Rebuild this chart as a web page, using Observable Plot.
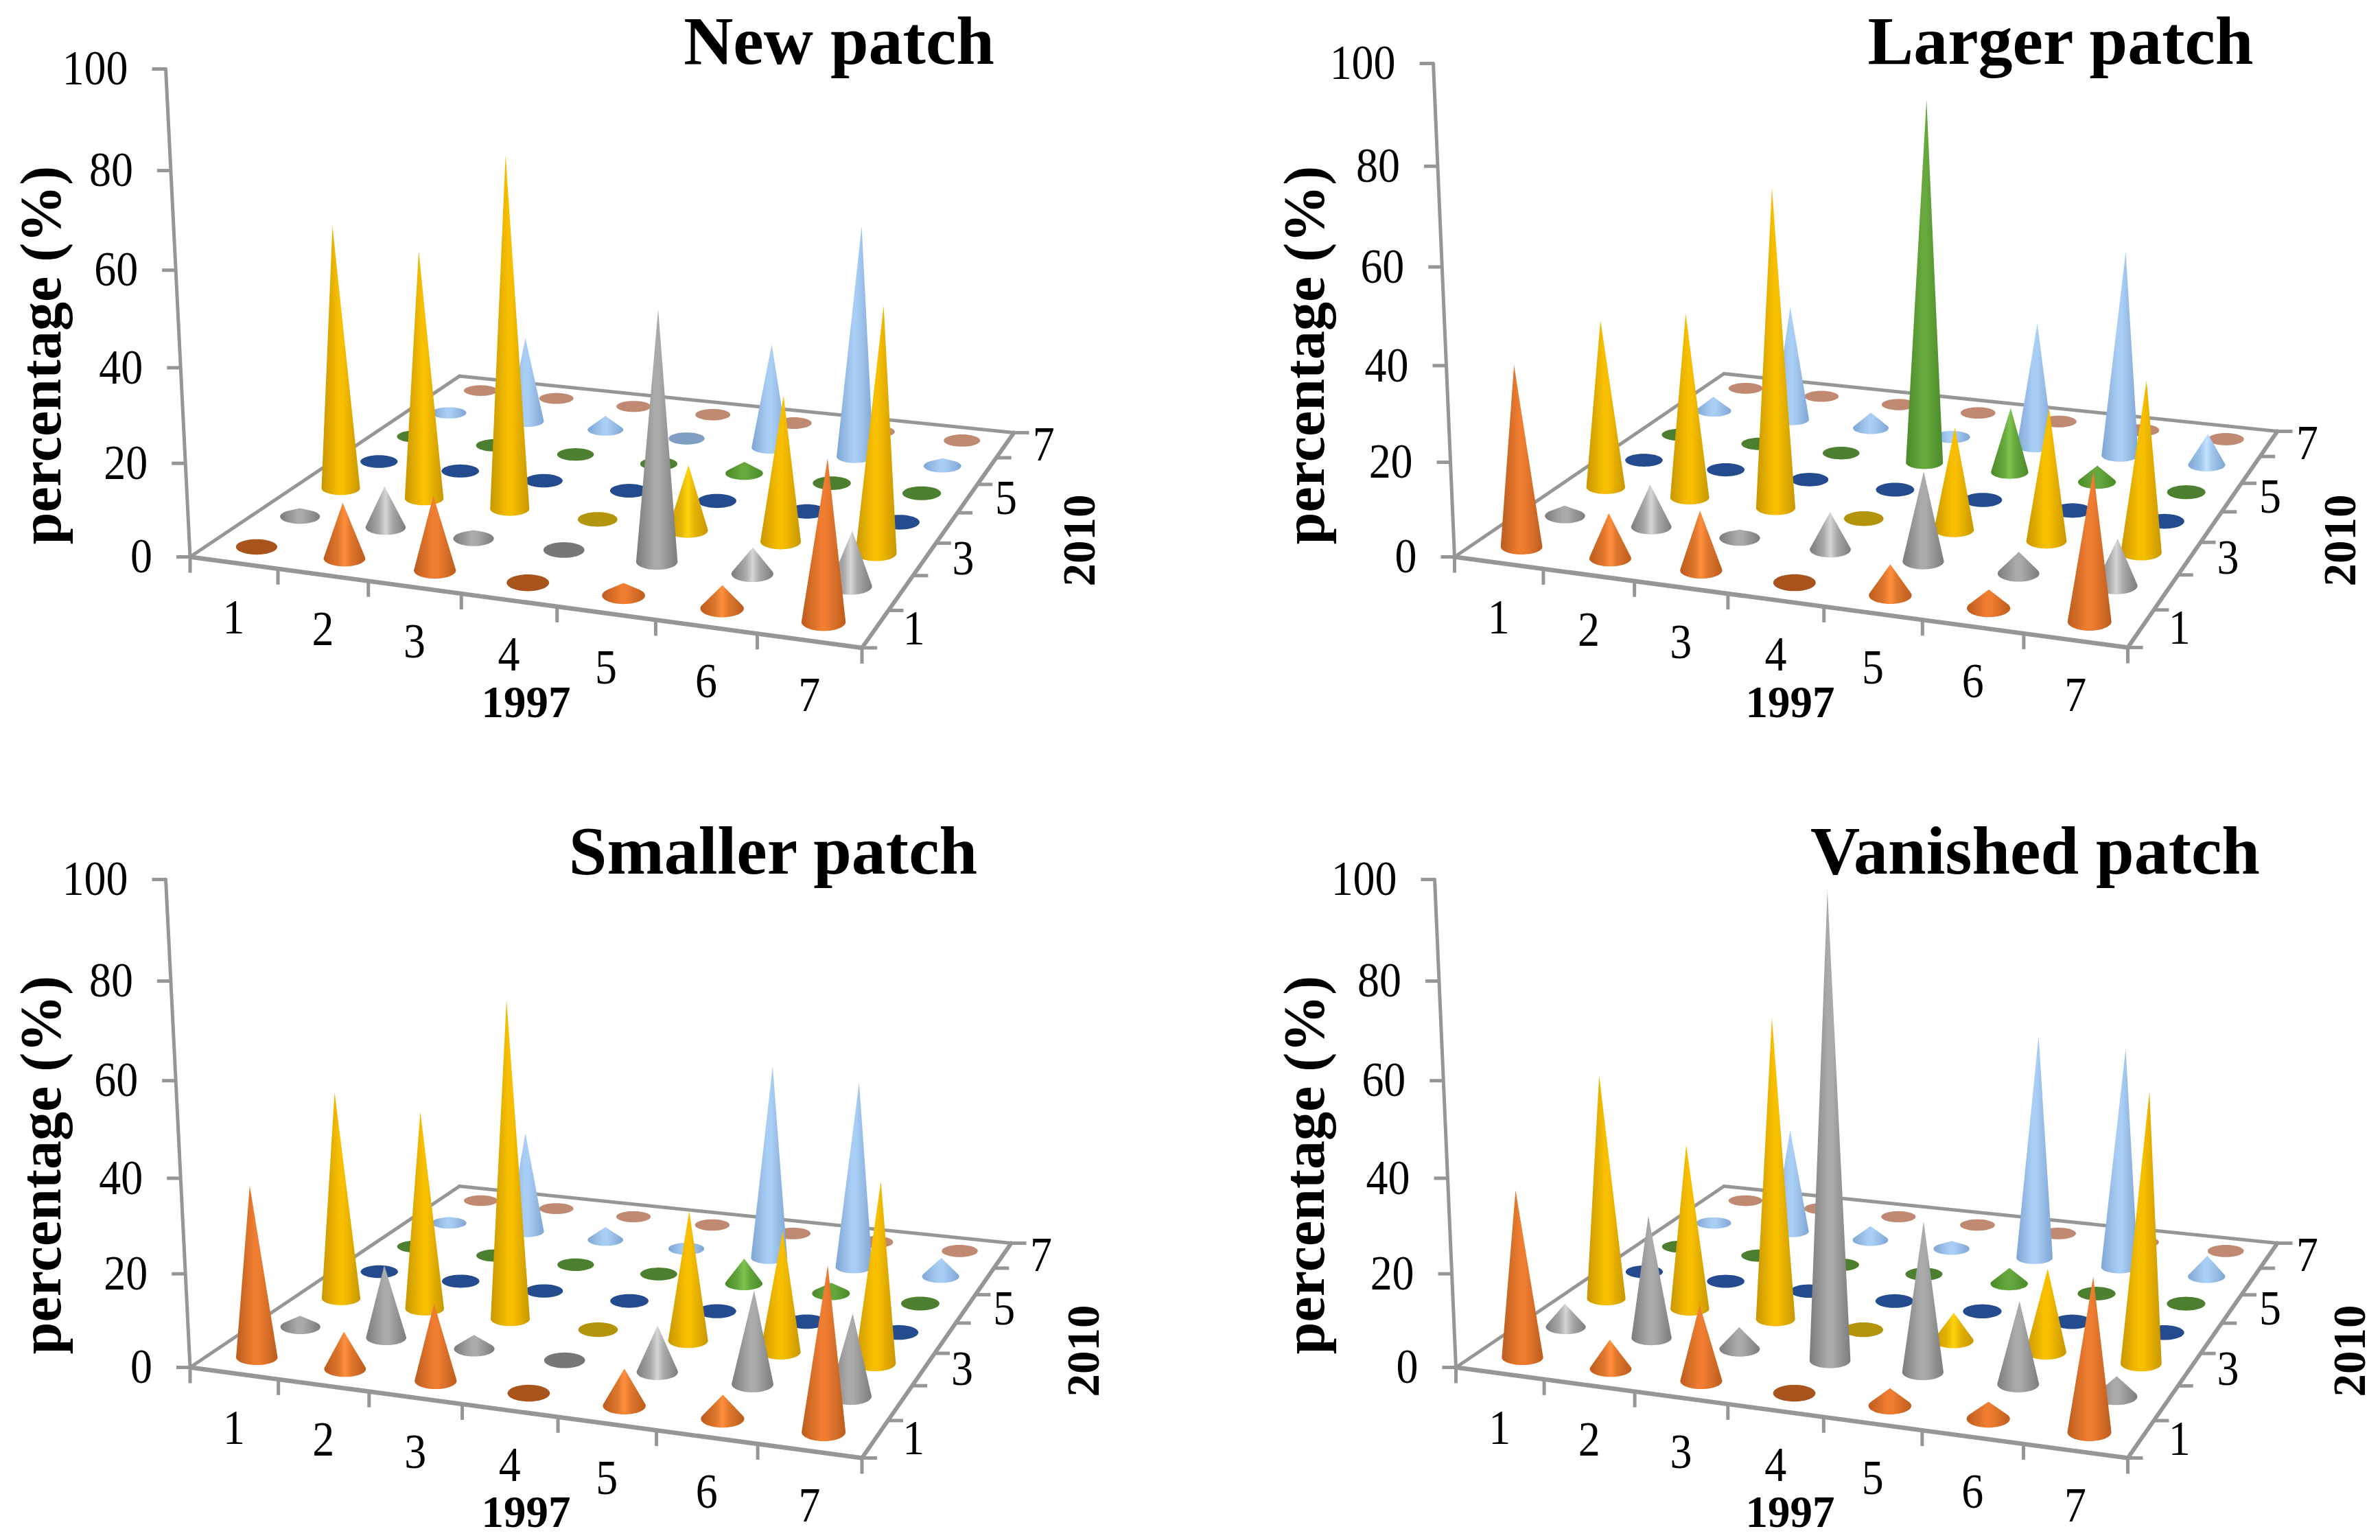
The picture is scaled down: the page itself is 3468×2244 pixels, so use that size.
<!DOCTYPE html>
<html>
<head>
<meta charset="utf-8">
<script src="https://cdn.jsdelivr.net/npm/d3@7"></script>
<script src="https://cdn.jsdelivr.net/npm/@observablehq/plot@0.6"></script>
<style>
html,body{margin:0;padding:0;background:#fff;overflow:hidden}
#grid{display:grid;grid-template-columns:1734px 1734px;grid-template-rows:1122px 1122px;width:3468px;height:2244px}
#grid svg{display:block;background:#fff}
</style>
</head>
<body>
<div id="grid"></div>
<script>
// Percentages, one row per 2010 class (1..7), one column per 1997 class (1..7)
const newPatch = [
  [0, 12, 16, 0, 2.7, 5, 34.7],
  [1.8, 8.8, 1.8, 0, 53, 5.7, 11.9],
  [55, 52, 73.5, 0, 14, 31, 52],
  [0, 0, 0, 0, 0, 0, 0],
  [0, 0, 0, 0, 2.5, 0, 0],
  [1, 17.8, 3, 0, 22, 48.5, 1.7 ],
  [0, 0, 0, 0, 0, 0, 0]
];
const largerPatch = [
  [38, 9.6, 12.7, 0, 6.6, 4, 31.6],
  [2.2, 9, 1.8, 8, 19, 4.6, 10],
  [35, 38.5, 66, 0, 21.6, 28, 36],
  [0, 0, 0, 0, 0, 0, 0],
  [0, 0, 0, 74.5, 13.6, 3.5, 0],
  [3, 23.7, 3.3, 0.5, 25.8, 42.5, 6.6],
  [0, 0, 0, 0, 0, 0, 0]
];
const smallerPatch = [
  [36.4, 8, 16.6, 0, 8, 5.2, 35.4],
  [2.4, 15.5, 3, 0, 10, 20, 17.8],
  [43.5, 41.6, 66.5, 0, 27.6, 25.8, 38.5],
  [0, 0, 0, 0, 0, 0, 0],
  [0, 0, 0, 0, 5.4, 2.3, 0],
  [1.3, 21, 2.8, 0.5, 40.5, 39, 4],
  [0, 0, 0, 0, 0, 0, 0]
];
const vanishedPatch = [
  [35.4, 6.3, 16.3, 0, 3.8, 3.7, 33],
  [5, 26, 4.7, 96.6, 32, 17.8, 4.4],
  [47, 34.7, 63, 0, 6, 17.8, 57],
  [0, 0, 0, 0, 0, 0, 0],
  [0, 0, 0, 0, 3.4, 0, 0],
  [1, 21.6, 3, 1.7, 46.7, 46, 4.5],
  [0, 0, 0, 0, 0, 0, 0]
];
const classes = [1, 2, 3, 4, 5, 6, 7];
const percentTicks = [0, 20, 40, 60, 80, 100];
const labelled2010 = [1, 3, 5, 7];
// Shading for each 2010 row
const rowEdge   = ["#bd5c1d", "#7c7c7c", "#c89600", "#1f4a8c", "#4a8a2a", "#7ea6d4", "#b97f68"];
const rowMuted  = ["#ee7d31", "#aaaaaa", "#f7bf00", "#2a5aa0", "#66a83d", "#a9cef5", "#c99078"];
const rowBright = ["#ff8f3d", "#d6d6d6", "#ffd40c", "#2a5aa0", "#7fc44f", "#c2e2ff", "#c99078"];
const rowDisc   = ["#a8541c", "#777777", "#b3940a", "#234b8e", "#4c8030", "#7f9fc2", "#c08a72"];

const panels = [
  {title: "New patch", values: newPatch, titleX: 1222, titleY: 92,
   fl: [276.5, 811], fr: [1255.5, 943.5], br: [1477, 630], bl: [669, 547.6], top: [241, 100],
   pctX: 87, pctY: 517, y2010X: 1594, y2010Y: 787, x1997: 766, y1997: 1044},
  {title: "Larger patch", values: largerPatch, titleX: 1268, titleY: 92,
   fl: [385, 811], fr: [1366, 943], br: [1584, 628], bl: [777.6, 544], top: [354, 92],
   pctX: 194, pctY: 517, y2010X: 1697, y2010Y: 787, x1997: 874, y1997: 1044},
  {title: "Smaller patch", values: smallerPatch, titleX: 1126, titleY: 150,
   fl: [276.5, 870], fr: [1255.5, 1002], br: [1473, 689], bl: [669, 606], top: [241, 159],
   pctX: 87, pctY: 575, y2010X: 1600, y2010Y: 846, x1997: 766, y1997: 1102},
  {title: "Vanished patch", values: vanishedPatch, titleX: 1231, titleY: 150,
   fl: [387, 870], fr: [1366, 1002], br: [1584, 689], bl: [777.6, 606], top: [356, 159],
   pctX: 194, pctY: 575, y2010X: 1711, y2010Y: 846, x1997: 874, y1997: 1102}
];

const serif = "'Liberation Serif','Times New Roman',serif";
const W = 1734, H = 1122;

function floorMap(p) {
  // Projective map of the 0..7 x 0..7 floor on to its four corners
  const [x0, y0] = p.fl, [x1, y1] = p.fr, [x2, y2] = p.br, [x3, y3] = p.bl;
  const dx1 = x1 - x2, dx2 = x3 - x2, sx = x0 - x1 + x2 - x3;
  const dy1 = y1 - y2, dy2 = y3 - y2, sy = y0 - y1 + y2 - y3;
  const det = dx1 * dy2 - dx2 * dy1;
  const g = (sx * dy2 - dx2 * sy) / det, h = (dx1 * sy - sx * dy1) / det;
  const a = x1 - x0 + g * x1, b = x3 - x0 + h * x3, d = y1 - y0 + g * y1, e = y3 - y0 + h * y3;
  return (u, v) => {
    const s = u / 7, t = v / 7, w = g * s + h * t + 1;
    return [(a * s + b * t + x0) / w, (d * s + e * t + y0) / w];
  };
}

function drawPanel(p, n) {
  const map = floorMap(p);
  const axisLen = p.fl[1] - p.top[1];
  const rise = v => axisLen * (0.009486 * v + 5.136e-6 * v * v);
  const axisAt = v => {
    const r = rise(v);
    return [p.fl[0] + (p.top[0] - p.fl[0]) * r / axisLen, p.fl[1] - r];
  };
  const vanishX = p.fl[0] + 613, lean = 8.03e-5;

  // Cones, back row first so nearer cones overlap them
  const conePoints = [];
  for (let j = 6; j >= 0; --j) {
    for (let i = 0; i < 7; ++i) {
      const v = p.values[j][i];
      const [bx, by] = map(i + 0.5, j + 0.5);
      const spread = d3.range(48).map(k => {
        const t = k / 48 * 2 * Math.PI;
        return map(i + 0.5 + 0.205 * Math.cos(t), j + 0.5 + 0.235 * Math.sin(t));
      });
      const rx = (d3.max(spread, q => q[0]) - d3.min(spread, q => q[0])) / 2;
      const ry = (d3.max(spread, q => q[1]) - d3.min(spread, q => q[1])) / 2;
      const ring = d3.range(48).map(k => {
        const t = k / 48 * 2 * Math.PI;
        return [bx + rx * Math.cos(t), by + ry * Math.sin(t)];
      });
      const r = rise(v);
      const pts = v > 0 ? ring.concat([[bx + (bx - vanishX) * r * lean, by - r]]) : ring;
      const hull = d3.polygonHull(pts);
      const tier = v >= 5 && v < 15 ? "b" : "m";
      const fill = v > 0 ? `url(#cone-${n}-${tier}-${j})` : rowDisc[j];
      for (const q of hull) conePoints.push({id: `${j}-${i}`, px: q[0], py: q[1], fill});
    }
  }

  const defs = () => {
    const ns = "http://www.w3.org/2000/svg";
    const el = document.createElementNS(ns, "defs");
    [["m", rowMuted], ["b", rowBright]].forEach(([tier, centre]) => rowEdge.forEach((edge, j) => {
      const lg = document.createElementNS(ns, "linearGradient");
      lg.setAttribute("id", `cone-${n}-${tier}-${j}`);
      lg.setAttribute("x1", "0"); lg.setAttribute("x2", "1");
      lg.setAttribute("y1", "0"); lg.setAttribute("y2", "0");
      const mid = d3.interpolateRgb(edge, centre[j])(0.5);
      const stops = tier === "b"
        ? [[0, edge], [0.34, mid], [0.5, centre[j]], [0.66, mid], [1, edge]]
        : [[0, edge], [0.44, centre[j]], [0.56, centre[j]], [1, edge]];
      stops.forEach(([o, c]) => {
        const s = document.createElementNS(ns, "stop");
        s.setAttribute("offset", o); s.setAttribute("stop-color", c);
        lg.appendChild(s);
      });
      el.appendChild(lg);
    }));
    return el;
  };

  const frame = [
    {a: p.bl, b: p.br, w: 5}, {a: p.fl, b: p.bl, w: 5},
    {a: p.fr, b: p.br, w: 6}, {a: p.fl, b: p.fr, w: 6.5}, {a: p.fl, b: p.top, w: 5}
  ];
  const ticks = [];
  percentTicks.forEach(v => { const q = axisAt(v); ticks.push({a: q, b: [q[0] - 20, q[1]]}); });
  d3.range(8).forEach(k => {
    const q = map(k, 0); ticks.push({a: q, b: [q[0], q[1] + 23]});
    const r = map(7, k); ticks.push({a: r, b: [r[0] + 22, r[1]]});
  });

  const axisColor = "#969696";
  const tick = {fontSize: 71, fill: "#000", lineAnchor: "middle"};
  const plot = Plot.plot({
    width: W, height: H, margin: 0,
    x: {domain: [0, W], range: [0, W], axis: null},
    y: {domain: [0, H], range: [0, H], axis: null},
    style: {background: "#fff", fontFamily: serif},
    marks: [
      defs,
      Plot.link(frame, {x1: d => d.a[0], y1: d => d.a[1], x2: d => d.b[0], y2: d => d.b[1],
        stroke: axisColor, strokeWidth: d => d.w, strokeLinecap: "round"}),
      Plot.link(ticks, {x1: d => d.a[0], y1: d => d.a[1], x2: d => d.b[0], y2: d => d.b[1],
        stroke: axisColor, strokeWidth: 5}),
      Plot.line(conePoints, {x: "px", y: "py", z: "id", fill: {value: "fill", scale: null},
        stroke: "none", curve: "linear"}),
      Plot.text(percentTicks, {...tick, x: v => axisAt(v)[0] - 55, y: v => axisAt(v)[1], text: v => String(v),
        textAnchor: "end", className: "squeeze"}),
      Plot.text(classes, {...tick, x: c => map(c - 0.5, 0)[0], y: c => map(c - 0.5, 0)[1] + 80, text: c => String(c),
        textAnchor: "middle", className: "squeeze"}),
      Plot.text(labelled2010, {...tick, x: c => map(7, c - 0.5)[0] + 56, y: c => map(7, c - 0.5)[1], text: c => String(c),
        textAnchor: "middle", className: "squeeze"}),
      Plot.text([p.title], {x: () => p.titleX, y: () => p.titleY, text: d => d, textAnchor: "middle",
        lineAnchor: "bottom", fontSize: 100, fontWeight: "bold", fill: "#000"}),
      Plot.text(["percentage (%)"], {x: () => p.pctX, y: () => p.pctY, text: d => d, rotate: -90, textAnchor: "middle",
        lineAnchor: "bottom", fontSize: 84, fontWeight: "bold", fill: "#000"}),
      Plot.text(["2010"], {x: () => p.y2010X, y: () => p.y2010Y, text: d => d, rotate: -90, textAnchor: "middle",
        lineAnchor: "bottom", fontSize: 67, fontWeight: "bold", fill: "#000"}),
      Plot.text(["1997"], {x: () => p.x1997, y: () => p.y1997, text: d => d, textAnchor: "middle",
        lineAnchor: "bottom", fontSize: 65, fontWeight: "bold", fill: "#000"})
    ]
  });
  return plot;
}
const grid = document.getElementById("grid");
panels.forEach((p, n) => {
  const svg = drawPanel(p, n);
  grid.appendChild(svg);
  // The reference's tick digits are slightly narrow for their height
  svg.querySelectorAll(".squeeze text").forEach(t => {
    t.setAttribute("textLength", t.getComputedTextLength() * 0.9);
    t.setAttribute("lengthAdjust", "spacingAndGlyphs");
  });
});
</script>
</body>
</html>
